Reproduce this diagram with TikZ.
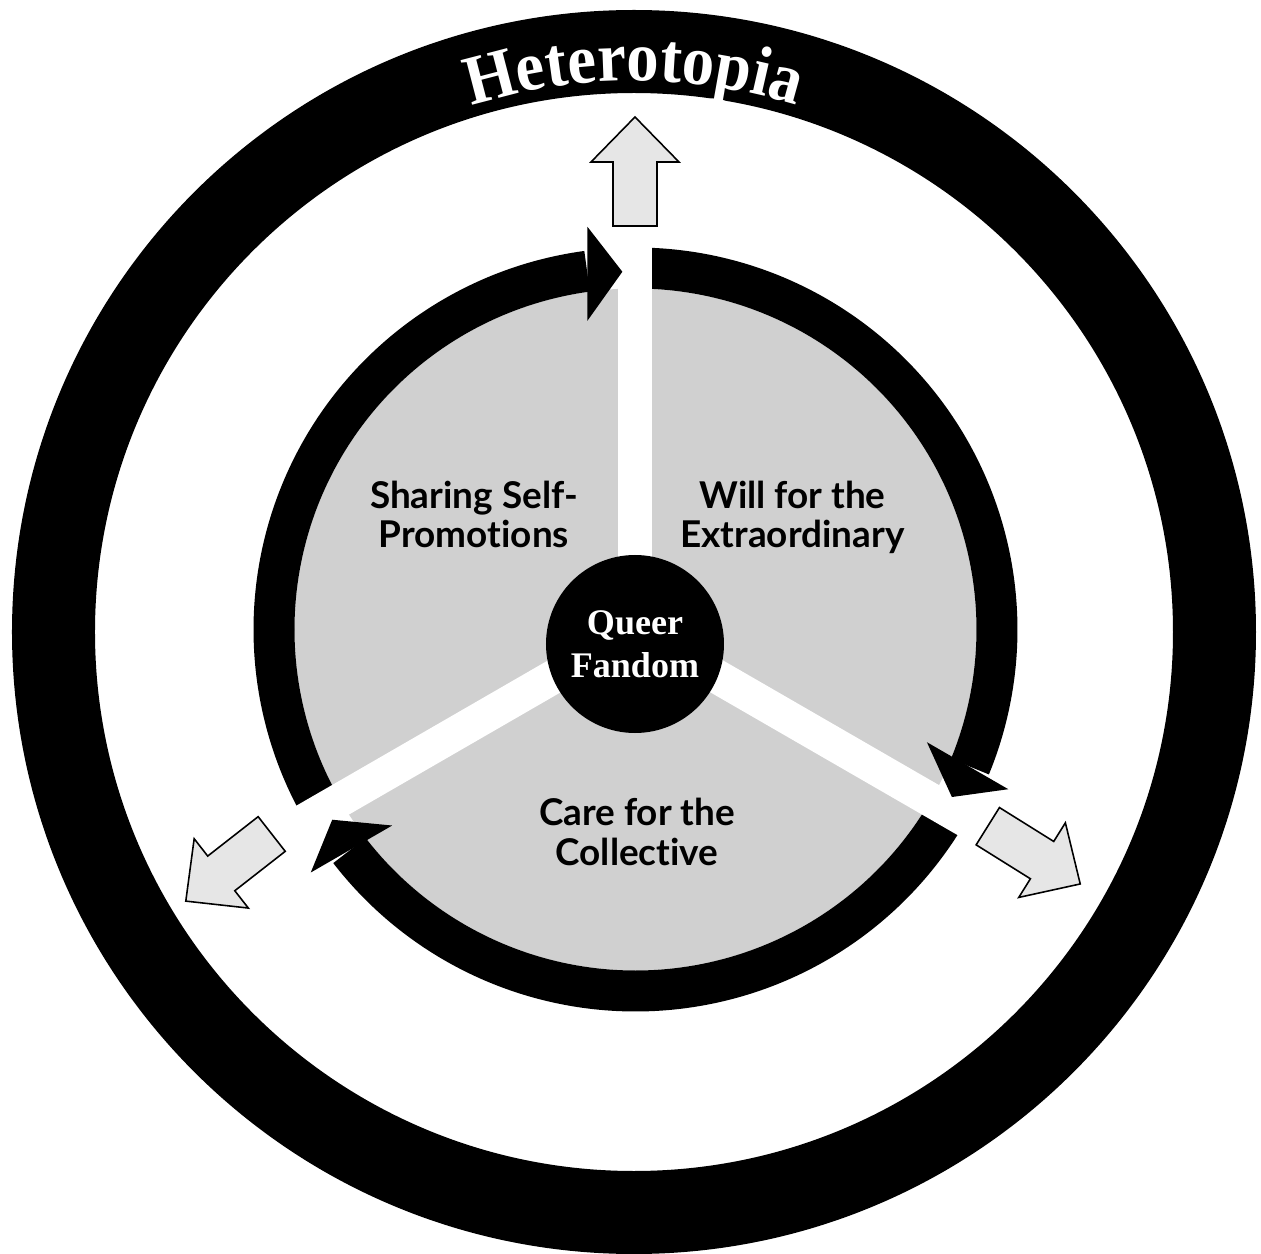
\documentclass[tikz,border=0pt]{standalone}
\usepackage{fontspec}
\setmainfont{Liberation Serif}
\newfontfamily\labelfont[Ligatures=NoCommon]{Lato}
\newfontfamily\heterofont[FakeStretch=0.92]{Liberation Serif}
\usepackage{tikz}
\usetikzlibrary{calc, decorations.text}
\definecolor{hfgray}{RGB}{208,208,208}
\definecolor{hfpale}{RGB}{230,230,230}
\definecolor{hfdark}{RGB}{0,0,0}

\tikzset{
  sector/.style={hfdark, font=\labelfont\bfseries\fontsize{21}{22.7}\selectfont,
    align=center, anchor=base, inner sep=0pt},
  outarrow/.style={fill=hfpale, draw=hfdark, line width=0.9pt, line join=miter},
}

\begin{document}
\begin{tikzpicture}[x=0.2mm, y=0.2mm]
\useasboundingbox (-635.5,-624.5) rectangle (625.5,629.5);

% outer ring
\coordinate (rc) at (-1.5,-2.5);
\fill[hfdark, even odd rule] (rc) circle (622) (rc) circle (539);
\path[decorate, decoration={text along path, text align=center,
    text={|\heterofont\bfseries\fontsize{40}{44}\selectfont\color{white}|Heterotopia}}]
  ($(rc)+(120:551)$) arc[start angle=120, end angle=60, radius=551];

% gray disk
\fill[hfgray] (0,0) circle (341);

% ---- cycle arcs ----
\foreach \g in {90,210,330}{
  \fill[hfdark] (\g+120:341) arc[start angle=\g+120, end angle=\g+7.7, radius=341]
    -- (\g+7.7:382) arc[start angle=\g+7.7, end angle=\g+120, radius=382] -- cycle;
}
% gaps
\foreach \g in {90,210,330}
  \fill[white, rotate=\g] (0,-17) rectangle (392,17);
% arrow heads
\foreach \g in {90,210,330}{
  \fill[hfdark] (\g+2.1:358) -- ($(\g+7.7:359)+(\g:47)$) -- ($(\g+7.7:359)-(\g:47)$) -- cycle;
}

% centre
\node[circle, fill=hfdark, minimum size=35.6mm, inner sep=0pt, text=white,
  font=\bfseries\fontsize{20.5}{24.4}\selectfont, align=center]
  (fandom) at (-0.5,-14.5) {Queer\\Fandom};

% sector labels (anchored on the last line)
\node[sector] (sharing) at (-161.5,81.5) {Sharing Self-\\Promotions};
\node[sector] (will)    at (157,81.5)    {Will for the\\Extraordinary};
\node[sector] (care)    at (1.5,-235.5)  {Care for the\\Collective};

% ---- outward arrows ----
\foreach \tx/\ty/\d in {-0.5/403.5/90, 352.3/-196.7/-32, -363.8/-204.5/218}
  \draw[outarrow, shift={(\tx,\ty)}, rotate=\d]
    (0,-22) -- (64,-22) -- (64,-44) -- (109,0) -- (64,44) -- (64,22) -- (0,22) -- cycle;
\end{tikzpicture}
\end{document}
